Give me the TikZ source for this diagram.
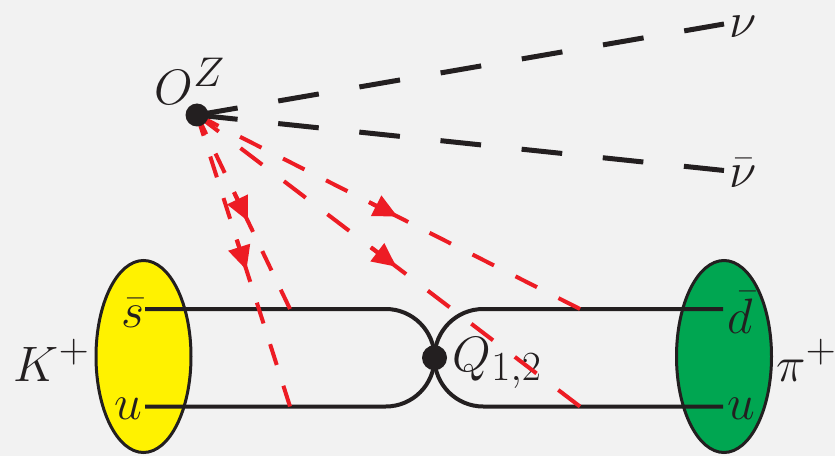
\documentclass[tikz,border=0pt]{standalone}
\usetikzlibrary{calc,shapes.geometric,arrows.meta}
\definecolor{bg}{HTML}{F2F2F2}
\definecolor{ink}{HTML}{231F20}
\definecolor{fred}{HTML}{ED1C24}
\definecolor{kyel}{HTML}{FFF200}
\definecolor{pgrn}{HTML}{00A651}
\tikzset{
  lbl/.style={inner sep=0pt, anchor=base west, text=ink, font=\fontsize{24.88}{30}\selectfont},
  meson/.style={ellipse, draw=ink, line width=1.5pt, minimum width=47.5pt, minimum height=96pt, inner sep=0pt},
  quark/.style={draw=ink, line width=2pt},
  nuline/.style={draw=ink, line width=2.5pt},
  gline/.style={draw=fred, line width=2pt},
  gtip/.style={draw=fred, fill=fred, line width=2pt, -{Triangle[length=12pt,width=11pt]}},
  vertex/.style={circle, fill=ink, inner sep=0pt, minimum size=#1},
  vertex/.default=12pt,
}
\begin{document}
\begin{tikzpicture}[x=0.5pt,y=0.5pt]
\useasboundingbox[fill=bg] (0,0) rectangle (835,456);
% mesons
\node[meson, fill=kyel] (K) at (143.5,99.5) {};
\node[meson, fill=pgrn] (P) at (724,99.5) {};
% vertices positions
\coordinate (O) at (197,341);
\coordinate (Q) at (434.5,98.25);
% quark line ends
\coordinate (sL) at (145,147);
\coordinate (uL) at (145,49.5);
\coordinate (tL) at (385.75,147);
\coordinate (dR) at (723,147);
\coordinate (uR) at (723,49.5);
\coordinate (tR) at (483.25,147);
\draw[quark] (sL) -- (tL) arc[start angle=90,end angle=-90,radius=24.375pt] -- (uL);
\draw[quark] (dR) -- (tR) arc[start angle=90,end angle=270,radius=24.375pt] -- (uR);
% labels
\node[lbl] (sb) at (121,129) {$\bar{s}$};
\node[lbl] (ul) at (114,37) {$u$};
\node[lbl] (db) at (727,123) {$\bar{d}$};
\node[lbl] (ur) at (727,37) {$u$};
\node[lbl] (Klab) at (13.5,75) {$K^+$};
\node[lbl] (Plab) at (776,75) {$\pi^+$};
\node[lbl] (Qlab) at (452.5,85) {$Q_{1,2}$};
\node[lbl] (Olab) at (154.5,351) {$O^Z$};
\node[lbl] (nu) at (729,418) {$\nu$};
\node[lbl] (nub) at (729,269) {$\bar{\nu}$};
% red lines: endpoint, s1, tip, s2, dash
\coordinate (eA) at (580,147);
\coordinate (eC) at (580,49.5);
\coordinate (eB) at (290,49.5);
\coordinate (eD) at (290,147);
\foreach \e/\sa/\st/\sb/\dd in {eA/96.4/112.4/118.4/12.05, eC/109.3/125.3/131.3/13.66, eB/65.4/81.4/87.4/10.9, eD/42.8/58.8/64.8/10.7}{
  \coordinate (a1) at ($(O)!\sa pt!(\e)$);
  \coordinate (a2) at ($(O)!\sb pt!(\e)$);
  \coordinate (at) at ($(O)!\st pt!(\e)$);
  \draw[gline, dash pattern=on \dd pt off \dd pt] (O) -- (a1);
  \draw[gline, dash pattern=on \dd pt off \dd pt] (\e) -- (a2);
  \draw[gline] (a1) -- (a2);
  \draw[gtip] (a1) -- (at);
}
% neutrino lines
\coordinate (nuE) at (724,432);
\coordinate (nubE) at (724,285.5);
\draw[nuline, dash pattern=on 20.6pt off 20.6pt] (O) -- (nuE);
\draw[nuline, dash pattern=on 20.4pt off 20.4pt] (O) -- (nubE);
% vertices
\node[vertex=11.5pt] (Ov) at (O) {};
\node[vertex=12.5pt] (Qv) at (Q) {};
\end{tikzpicture}
\end{document}
